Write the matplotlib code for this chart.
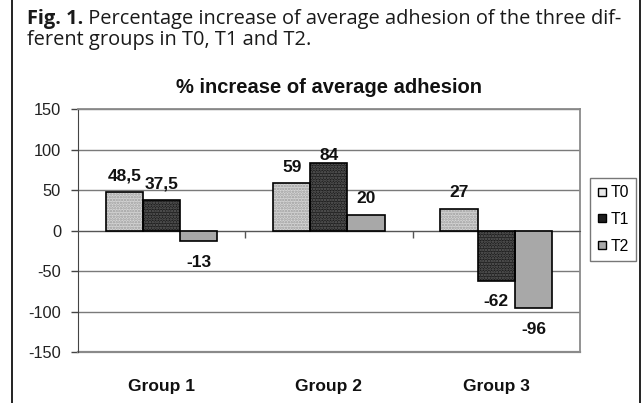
import matplotlib
matplotlib.use("Agg")
import matplotlib.pyplot as plt
from matplotlib.lines import Line2D
import matplotlib.transforms as mtransforms

# data
groups = ["Group 1", "Group 2", "Group 3"]
series_names = ["T0", "T1", "T2"]
t0_vals = [48.5, 59, 27]
t1_vals = [37.5, 84, -62]
t2_vals = [-13, 20, -96]
y_ticks = [-150, -100, -50, 0, 50, 100, 150]

series_vals = [t0_vals, t1_vals, t2_vals]

# bar look (face, dot pattern colour, pattern)
fills = ["#d6d6d6", "#1e1e1e", "#a8a8a8"]
dot_cols = ["#9c9c9c", "#626262", "#a8a8a8"]
patterns = ["......", "......", None]

# label offsets in points (above / below the bar end)
off_up = 11.5
off_down = -15
special_off = {(1, 1): 5}

plt.rcParams["font.family"] = ["Liberation Sans", "DejaVu Sans"]
plt.rcParams["hatch.linewidth"] = 1.2
plt.rcParams["axes.unicode_minus"] = False

fig = plt.figure(figsize=(6.41, 4.03), dpi=100)
ax = fig.add_axes([0.1212, 0.1266, 0.7836, 0.6017])

width = 1 / 4.5
for i, vals in enumerate(series_vals):
    xs = [g + (i - 1) * width for g in range(len(groups))]
    # fill with dotted texture, then the black outline on top
    ax.bar(xs, vals, width, color=fills[i], edgecolor=dot_cols[i],
           hatch=patterns[i], linewidth=0, zorder=3)
    ax.bar(xs, vals, width, fill=False, edgecolor="black",
           linewidth=1.2, zorder=4)
    for j, (x, v) in enumerate(zip(xs, vals)):
        dy = special_off.get((i, j), off_up if v >= 0 else off_down)
        txt = ("%g" % v).replace(".", ",")
        ax.annotate(txt, (x, v), xytext=(0, dy), textcoords="offset points",
                    ha="center", va="center", fontsize=12.5,
                    fontweight="bold", color="#111111", zorder=5)

ax.set_xlim(-0.5, 2.5)
ax.set_ylim(-150, 150)
ax.set_yticks(y_ticks)
ax.tick_params(axis="y", labelsize=11.8, length=5, width=1,
               color="#444444", labelcolor="#222222", pad=7)
ax.grid(axis="y", color="#7a7a7a", linewidth=1, zorder=0)
ax.set_axisbelow(True)

# category axis sits on zero, ticks between groups
ax.spines["bottom"].set_position(("data", 0))
ax.spines["bottom"].set_color("#555555")
ax.set_xticks([0.5, 1.5])
ax.set_xticklabels([])
ax.tick_params(axis="x", length=5, width=1, color="#555555", direction="out")
ax.spines["left"].set_color("#444444")
for s in ["top", "right"]:
    ax.spines[s].set_color("#8a8a8a")
    ax.spines[s].set_linewidth(1.3)
ax.axhline(-150, color="#8a8a8a", linewidth=1.6, zorder=1, clip_on=False)

trans = mtransforms.blended_transform_factory(ax.transData, ax.transAxes)
for g, name in enumerate(groups):
    ax.text(g, -0.144, name, transform=trans, ha="center", va="center",
            fontsize=12.5, fontweight="bold", color="#111111")

ax.set_title("% increase of average adhesion", fontsize=14.5,
             fontweight="bold", pad=12, color="#111111")

handles = [Line2D([], [], linestyle="none", marker="s", markersize=5.5,
                  markerfacecolor=fills[i], markeredgecolor="black",
                  markeredgewidth=1) for i in range(3)]
handles[0].set_markerfacecolor("#e8e8e8")
fig.legend(handles, series_names, loc="center",
           bbox_to_anchor=(0.922, 0.35, 0.0686, 0.211),
           fontsize=11.3, frameon=True, fancybox=False, edgecolor="#555555",
           handlelength=0.6, handletextpad=0.25, labelspacing=0.75,
           borderpad=0.45, borderaxespad=0)

# caption above the chart
cap_kw = dict(fontsize=14.4, family=["Open Sans", "DejaVu Sans"],
              color="#1a1a1a")
fig_lbl = fig.text(27 / 641, 1 - 24 / 403, "Fig. 1.", fontweight="bold",
                   va="baseline", **cap_kw)
ax.annotate(" Percentage increase of average adhesion of the three dif-",
            xy=(1, 0), xycoords=fig_lbl, va="bottom", ha="left",
            annotation_clip=False, **cap_kw)
fig.text(27 / 641, 1 - 45 / 403, "ferent groups in T0, T1 and T2.",
         va="baseline", **cap_kw)

# side rules of the figure box
for xf in (12 / 641, 639.5 / 641):
    fig.add_artist(Line2D([xf, xf], [0, 1], transform=fig.transFigure,
                          color="#111111", linewidth=1.3))

fig.savefig("out.png", dpi=100)
